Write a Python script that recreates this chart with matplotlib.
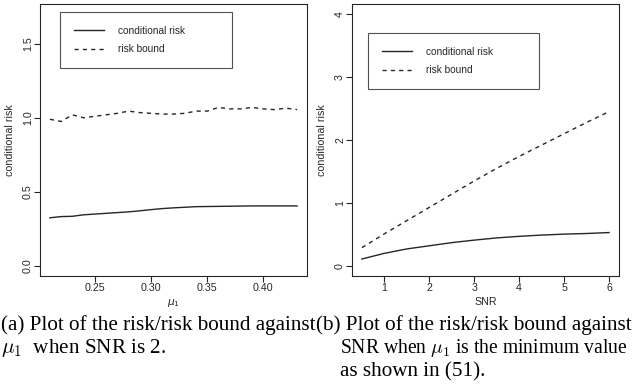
import matplotlib
matplotlib.use("Agg")
import matplotlib.pyplot as plt

# (a) risk vs mu_1, SNR = 2
mu1 = [0.21, 0.22, 0.23, 0.24, 0.25, 0.26, 0.27, 0.28, 0.29, 0.30, 0.31, 0.32,
       0.33, 0.34, 0.35, 0.36, 0.37, 0.38, 0.39, 0.40, 0.41, 0.42, 0.43]
risk_a = [0.325, 0.333, 0.335, 0.345, 0.350, 0.355, 0.360, 0.365, 0.372, 0.380,
          0.387, 0.392, 0.396, 0.400, 0.401, 0.402, 0.403, 0.404, 0.405, 0.405,
          0.405, 0.405, 0.405]
bound_a = [0.990, 0.975, 1.020, 1.000, 1.010, 1.020, 1.030, 1.045, 1.035, 1.030,
           1.025, 1.025, 1.030, 1.045, 1.045, 1.070, 1.060, 1.060, 1.070, 1.060,
           1.055, 1.065, 1.055]

# (b) risk vs SNR
snr = [0.5, 1.0, 1.5, 2.0, 2.5, 3.0, 3.5, 4.0, 4.5, 5.0, 5.5, 6.0]
risk_b = [0.11, 0.20, 0.27, 0.32, 0.37, 0.41, 0.445, 0.47, 0.49, 0.505, 0.515, 0.53]
bound_b = [0.29, 0.51, 0.72, 0.93, 1.14, 1.35, 1.55, 1.74, 1.92, 2.10, 2.28, 2.45]

plt.rcParams["font.family"] = "Liberation Sans"
plt.rcParams["mathtext.fontset"] = "cm"
ink = "#262626"
fs = 7.7

fig = plt.figure(figsize=(6.32, 3.85), dpi=100)
W, H = 632, 385


def panel(left_px, x, y1, y2, ylim, xticks, xtl, yticks, ytl, xlabel, leg_box):
    ax = fig.add_axes([left_px / W, 1 - 276 / H, 267 / W, 272 / H])
    ax.plot(x, y1, color=ink, lw=1.0, label="conditional risk")
    ax.plot(x, y2, color=ink, lw=1.0, ls=(0, (3, 3)), label="risk bound")
    span = x[-1] - x[0]
    ax.set_xlim(x[0] - 0.04 * span, x[-1] + 0.04 * span)
    yspan = ylim[1] - ylim[0]
    ax.set_ylim(ylim[0] - 0.04 * yspan, ylim[1] + 0.04 * yspan)
    ax.set_xticks(xticks, xtl)
    ax.set_yticks(yticks, ytl, rotation=90, va="center")
    ax.tick_params(direction="out", length=4, width=0.8, colors=ink,
                   labelsize=fs, pad=1)
    for s in ax.spines.values():
        s.set_color(ink)
        s.set_linewidth(0.8)
    ax.set_ylabel("conditional risk", fontsize=fs, color=ink, labelpad=5.5)
    ax.set_xlabel(xlabel, fontsize=fs, color=ink, labelpad=3,
                  math_fontfamily="dejavusans")
    leg = ax.legend(loc="upper left", bbox_to_anchor=leg_box, mode="expand",
                    borderaxespad=0, fontsize=7.3, frameon=True, fancybox=False,
                    edgecolor=ink, handlelength=3.0, handletextpad=1.4,
                    borderpad=1.35, labelspacing=0.85)
    leg.get_frame().set_linewidth(0.8)
    for t in leg.get_texts():
        t.set_color(ink)
    return ax


panel(40, mu1, risk_a, bound_a, (0, 1.7), [0.25, 0.30, 0.35, 0.40],
      ["0.25", "0.30", "0.35", "0.40"], [0.0, 0.5, 1.0, 1.5],
      ["0.0", "0.5", "1.0", "1.5"], r"$\mu_1$", (0.075, 0.5, 0.644, 0.47))
panel(352, snr, risk_b, bound_b, (0, 4), [1, 2, 3, 4, 5, 6],
      ["1", "2", "3", "4", "5", "6"], [0, 1, 2, 3, 4],
      ["0", "1", "2", "3", "4"], "SNR", (0.06, 0.4, 0.64, 0.893 - 0.4))

cap = dict(fontsize=15.2, family="Liberation Serif", va="baseline", ha="left")
fig.text(1 / W, 1 - 330 / H, "(a) Plot of the risk/risk bound against", **cap)
fig.text(316 / W, 1 - 330 / H, "(b) Plot of the risk/risk bound against", **cap)
fig.text(1 / W, 1 - 353 / H, r"$\mu_1$  when SNR is 2.", **cap)
long_line = fig.text(340 / W, 1 - 353 / H,
                     r"SNR when $\mu_1$ is the minimum value", **cap)
fig.text(340 / W, 1 - 376 / H, "as shown in (51).", **cap)

# shrink the long caption line so it fits the column like the justified original
fig.canvas.draw()
w = long_line.get_window_extent().width
if w > 288:
    long_line.set_fontsize(15.2 * 288 / w)

fig.savefig("out.png", dpi=100)
